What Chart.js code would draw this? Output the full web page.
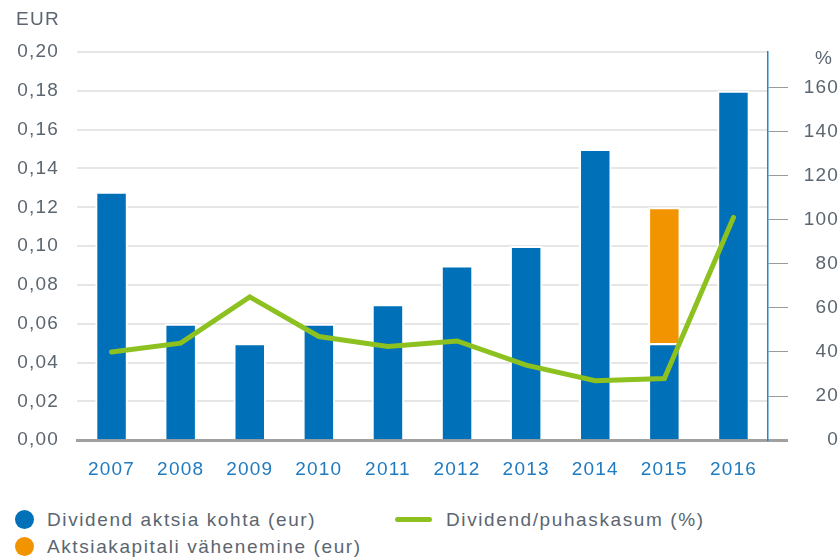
<!DOCTYPE html>
<html>
<head>
<meta charset="utf-8">
<script src="https://cdn.jsdelivr.net/npm/chart.js@4"></script>
<style>
  html, body { margin: 0; padding: 0; background: #fff; }
  #wrap { position: relative; width: 839px; height: 558px; font-family: "Liberation Sans", Arial, sans-serif; color: #5b6670; }
  canvas { position: absolute; left: 0; top: 0; }
  .lbl { position: absolute; font-size: 19px; line-height: 1; white-space: nowrap; letter-spacing: 1.6px; }
  .dot { position: absolute; width: 19px; height: 19px; border-radius: 50%; }
  .ln { position: absolute; height: 5px; border-radius: 3px; background: #8cc11f; }
</style>
</head>
<body>
<div id="wrap">
  <canvas id="c" width="839" height="499"></canvas>
  <div class="lbl" style="left:16px; top:9px; letter-spacing:1.3px;">EUR</div>
  <div class="lbl" style="left:815px; top:48px;">%</div>
  <div class="dot" style="left:15px; top:510px; background:#0070b8;"></div>
  <div class="lbl" id="lg1" style="left:47px; top:510px;"></div>
  <div class="dot" style="left:15px; top:537px; background:#f29400;"></div>
  <div class="lbl" id="lg2" style="left:47px; top:537px;"></div>
  <div class="ln" style="left:395px; top:517px; width:37px;"></div>
  <div class="lbl" id="lg3" style="left:446px; top:510px;"></div>
</div>
<script>
const categories = ["2007","2008","2009","2010","2011","2012","2013","2014","2015","2016"];
const dividendPerShare = [0.128, 0.06, 0.05, 0.06, 0.07, 0.09, 0.10, 0.15, 0.05, 0.18];
const capitalReduction = [null, null, null, null, null, null, null, null, 0.07, null];
const payoutRatio = [40, 44, 65, 47, 42.5, 45, 34, 27, 28, 101];
const seriesNames = ["Dividend aktsia kohta (eur)", "Aktsiakapitali vähenemine (eur)", "Dividend/puhaskasum (%)"];
const leftTicks = [0, 0.02, 0.04, 0.06, 0.08, 0.10, 0.12, 0.14, 0.16, 0.18, 0.20];
const rightTicks = [0, 20, 40, 60, 80, 100, 120, 140, 160];

document.getElementById('lg1').textContent = seriesNames[0];
document.getElementById('lg2').textContent = seriesNames[1];
document.getElementById('lg3').textContent = seriesNames[2];

const font = { family: '"Liberation Sans", Arial, sans-serif', size: 19 };
const gray = '#5b6670';

const spacing = {
  id: 'spacing',
  beforeUpdate(chart) { chart.ctx.letterSpacing = '1.2px'; },
  beforeDraw(chart) { chart.ctx.letterSpacing = '1.2px'; }
};

new Chart(document.getElementById('c'), {
  plugins: [spacing],
  data: {
    labels: categories,
    datasets: [
      { type: 'line', label: seriesNames[2], data: payoutRatio, yAxisID: 'y1',
        borderColor: '#8cc11f', borderWidth: 5, pointRadius: 0, tension: 0,
        borderCapStyle: 'round', borderJoinStyle: 'miter', order: 0 },
      { type: 'bar', label: seriesNames[0], data: dividendPerShare, yAxisID: 'y',
        backgroundColor: '#0070b8', borderColor: '#ffffff', borderWidth: 2,
        barPercentage: 0.47, categoryPercentage: 1, order: 1, stack: 's' },
      { type: 'bar', label: seriesNames[1], data: capitalReduction, yAxisID: 'y',
        backgroundColor: '#f29400', borderColor: '#ffffff', borderWidth: 2,
        barPercentage: 0.47, categoryPercentage: 1, order: 1, stack: 's' }
    ]
  },
  options: {
    responsive: false,
    animation: false,
    layout: { padding: { top: 52, right: 0, left: 0, bottom: 0 } },
    plugins: { legend: { display: false }, tooltip: { enabled: false } },
    scales: {
      x: {
        stacked: true,
        grid: { display: false, drawTicks: false },
        border: { display: true, color: '#a0a0a0', width: 3 },
        ticks: { color: '#1f7ac0', font: font, padding: 18 }
      },
      y: {
        stacked: true,
        position: 'left',
        min: 0, max: 0.2,
        afterBuildTicks: (ax) => { ax.ticks = leftTicks.map(v => ({ value: v })); },
        afterFit: (ax) => { ax.width = 77; },
        grid: { color: '#e6e6e6', lineWidth: 2, drawTicks: false },
        border: { display: false },
        ticks: { color: gray, font: font, padding: 18,
          callback: (v) => Number(v).toFixed(2).replace('.', ',') }
      },
      y1: {
        position: 'right',
        min: 0, max: 176,
        afterBuildTicks: (ax) => { ax.ticks = rightTicks.map(v => ({ value: v })); },
        afterFit: (ax) => { ax.width = 71; },
        grid: { drawOnChartArea: false, drawTicks: true, tickLength: 20,
          tickColor: (c) => c.tick && c.tick.value === 0 ? '#a0a0a0' : '#9a9a9a',
          tickWidth: (c) => c.tick && c.tick.value === 0 ? 3 : 1 },
        border: { display: true, color: '#1f86cf', width: 1.5 },
        ticks: { color: gray, font: font, padding: 8, crossAlign: 'far' }
      }
    }
  }
});
</script>
</body>
</html>
